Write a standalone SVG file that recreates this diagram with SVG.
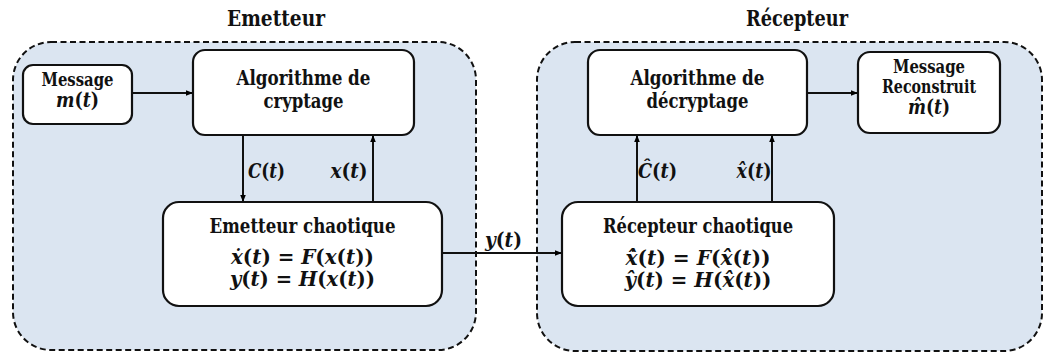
<svg xmlns="http://www.w3.org/2000/svg" width="1049" height="353" viewBox="0 0 1049 353">
  <defs>
    <marker id="arrow" viewBox="0 0 8 8" refX="8" refY="4" markerWidth="7" markerHeight="7" markerUnits="userSpaceOnUse" orient="auto">
      <path d="M0,0.8 L8,4 L0,7.2 z" fill="#000"/>
    </marker>
    <style>
      text { font-family: 'DejaVu Serif Condensed', 'DejaVu Serif', serif; font-weight: bold; fill: #111; text-anchor: middle; }
      .zone { fill: #dbe5f1; stroke: #111; stroke-width: 2; stroke-dasharray: 6 3.5; }
      .box { fill: #fff; stroke: #111; stroke-width: 2.2; }
      .title { font-size: 23px; }
      .lbl { font-size: 20.5px; }
      .algo { font-size: 19.5px; }
      .small { font-size: 18.5px; }
      .math { font-size: 20px; }
      .m { font-style: italic; }
      .wire { fill: none; stroke: #111; stroke-width: 2; }
    </style>
  </defs>

  <rect width="1049" height="353" fill="#fff"/>

  <!-- section titles -->
  <text class="title" x="276" y="26" textLength="98" lengthAdjust="spacingAndGlyphs">Emetteur</text>
  <text class="title" x="797" y="26" textLength="102" lengthAdjust="spacingAndGlyphs">Récepteur</text>

  <!-- dashed section frames -->
  <rect id="zone-emetteur" class="zone" x="13" y="42" width="463" height="308" rx="38" ry="38"/>
  <rect id="zone-recepteur" class="zone" x="537" y="42" width="505" height="309" rx="38" ry="38"/>

  <!-- connectors -->
  <g id="connectors">
    <line class="wire" x1="132" y1="93" x2="193" y2="93" marker-end="url(#arrow)"/>
    <line class="wire" x1="243" y1="135" x2="243" y2="202" marker-end="url(#arrow)"/>
    <line class="wire" x1="373" y1="202" x2="373" y2="135" marker-end="url(#arrow)"/>
    <line class="wire" x1="442" y1="253" x2="562" y2="253" marker-end="url(#arrow)"/>
    <line class="wire" x1="637" y1="202" x2="637" y2="135" marker-end="url(#arrow)"/>
    <line class="wire" x1="772" y1="202" x2="772" y2="135" marker-end="url(#arrow)"/>
    <line class="wire" x1="807" y1="93" x2="858" y2="93" marker-end="url(#arrow)"/>
    <text class="math" x="266.5" y="178" textLength="37" lengthAdjust="spacingAndGlyphs"><tspan class="m">C</tspan>(<tspan class="m">t</tspan>)</text>
    <text class="math" x="349" y="178" textLength="37" lengthAdjust="spacingAndGlyphs"><tspan class="m">x</tspan>(<tspan class="m">t</tspan>)</text>
    <text class="math" x="503.5" y="247" textLength="37" lengthAdjust="spacingAndGlyphs"><tspan class="m">y</tspan>(<tspan class="m">t</tspan>)</text>
    <text class="math" x="657.5" y="178" textLength="39" lengthAdjust="spacingAndGlyphs"><tspan class="m">Ĉ</tspan>(<tspan class="m">t</tspan>)</text>
    <text class="math" x="754" y="178" textLength="35" lengthAdjust="spacingAndGlyphs"><tspan class="m">x̂</tspan>(<tspan class="m">t</tspan>)</text>
  </g>

  <!-- message source -->
  <g id="message">
    <rect class="box" x="23" y="65" width="109" height="59" rx="10"/>
    <text class="small" x="77.5" y="86" textLength="72" lengthAdjust="spacingAndGlyphs">Message</text>
    <text class="math" x="77.5" y="107" textLength="43" lengthAdjust="spacingAndGlyphs"><tspan class="m">m</tspan>(<tspan class="m">t</tspan>)</text>
  </g>

  <!-- encryption -->
  <g id="algo-cryptage">
    <rect class="box" x="193" y="50" width="221" height="85" rx="12"/>
    <text class="algo" x="303.5" y="85" textLength="134" lengthAdjust="spacingAndGlyphs">Algorithme de</text>
    <text class="algo" x="303.5" y="108" textLength="80" lengthAdjust="spacingAndGlyphs">cryptage</text>
  </g>

  <!-- chaotic transmitter -->
  <g id="emetteur-chaotique">
    <rect class="box" x="163" y="202" width="279" height="104" rx="16"/>
    <text class="lbl" x="302.5" y="233" textLength="186" lengthAdjust="spacingAndGlyphs">Emetteur chaotique</text>
    <text class="math" x="302.5" y="264" textLength="143" lengthAdjust="spacingAndGlyphs"><tspan class="m">ẋ</tspan>(<tspan class="m">t</tspan>) = <tspan class="m">F</tspan>(<tspan class="m">x</tspan>(<tspan class="m">t</tspan>))</text>
    <text class="math" x="302.5" y="286" textLength="145" lengthAdjust="spacingAndGlyphs"><tspan class="m">y</tspan>(<tspan class="m">t</tspan>) = <tspan class="m">H</tspan>(<tspan class="m">x</tspan>(<tspan class="m">t</tspan>))</text>
  </g>

  <!-- decryption -->
  <g id="algo-decryptage">
    <rect class="box" x="588" y="50" width="219" height="85" rx="12"/>
    <text class="algo" x="697.5" y="85" textLength="134" lengthAdjust="spacingAndGlyphs">Algorithme de</text>
    <text class="algo" x="697.5" y="108" textLength="102" lengthAdjust="spacingAndGlyphs">décryptage</text>
  </g>

  <!-- reconstructed message -->
  <g id="message-reconstruit">
    <rect class="box" x="858" y="52" width="142" height="81" rx="12"/>
    <text class="small" x="929" y="73" textLength="72" lengthAdjust="spacingAndGlyphs">Message</text>
    <text class="small" x="929" y="93" textLength="94" lengthAdjust="spacingAndGlyphs">Reconstruit</text>
    <text class="math" x="929" y="114" textLength="42" lengthAdjust="spacingAndGlyphs"><tspan class="m">m̂</tspan>(<tspan class="m">t</tspan>)</text>
  </g>

  <!-- chaotic receiver -->
  <g id="recepteur-chaotique">
    <rect class="box" x="562" y="202" width="272" height="104" rx="16"/>
    <text class="lbl" x="698" y="233" textLength="190" lengthAdjust="spacingAndGlyphs">Récepteur chaotique</text>
    <text class="math" x="698" y="265" textLength="145" lengthAdjust="spacingAndGlyphs"><tspan class="m">x̂̇</tspan>(<tspan class="m">t</tspan>) = <tspan class="m">F</tspan>(<tspan class="m">x̂</tspan>(<tspan class="m">t</tspan>))</text>
    <text class="math" x="698" y="287" textLength="147" lengthAdjust="spacingAndGlyphs"><tspan class="m">ŷ</tspan>(<tspan class="m">t</tspan>) = <tspan class="m">H</tspan>(<tspan class="m">x̂</tspan>(<tspan class="m">t</tspan>))</text>
  </g>
</svg>
